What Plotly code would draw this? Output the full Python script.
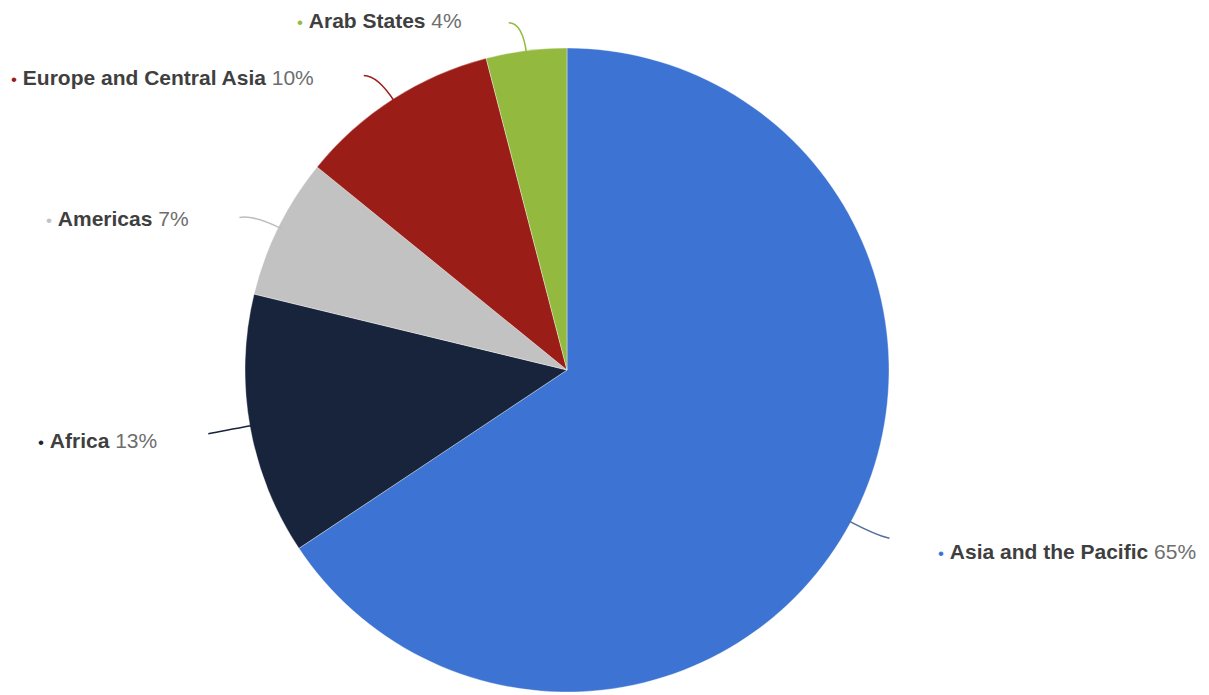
import math
import plotly.graph_objects as go

regions = ["Asia and the Pacific", "Africa", "Americas", "Europe and Central Asia", "Arab States"]
shares = [65, 13, 7, 10, 4]
colors = ["#3d74d3", "#18243c", "#c2c2c2", "#9b1d17", "#93ba3f"]
line_colors = ["#4f6f9e", "#18243c", "#bdbdbd", "#9b1d17", "#93ba3f"]

# label anchor positions (pixels)
label_pos = [(936, 551), (36, 440), (44, 218), (9, 77), (295, 20)]

W, H = 1209, 695
CX, CY, R = 567, 370, 322

fig = go.Figure()
fig.add_trace(go.Pie(
    labels=regions, values=shares, sort=False, direction="clockwise", rotation=0,
    marker=dict(colors=colors, line=dict(color="rgba(255,255,255,0.6)", width=0.6)),
    textinfo="none", hoverinfo="label+percent", showlegend=False,
    domain=dict(x=[(CX - R) / W, (CX + R) / W], y=[(H - CY - R) / H, (H - CY + R) / H]),
))
# invisible pixel axes for leader lines
fig.add_trace(go.Scatter(x=[0], y=[0], mode="markers", marker=dict(opacity=0), hoverinfo="skip", showlegend=False))

total = sum(shares)
cum = 0
shapes = []
annotations = []
for i, v in enumerate(shares):
    mid = (cum + v / 2) / total
    cum += v
    ang = math.radians(90 - mid * 360)
    ux, uy = math.cos(ang), -math.sin(ang)
    x0, y0 = CX + (R - 4) * ux, CY + (R - 4) * uy
    x1, y1 = CX + (R + 28) * ux, CY + (R + 28) * uy
    sgn = 1 if ux >= 0 else -1
    x2, y2 = x1 + sgn * 14, y1 + (3 if abs(uy) < 0.5 else 0)
    shapes.append(dict(type="path", xref="x", yref="y",
                       path=f"M {x0:.1f} {y0:.1f} Q {x1:.1f} {y1:.1f} {x2:.1f} {y2:.1f}",
                       line=dict(color=line_colors[i], width=1.5)))
    lx, ly = label_pos[i]
    txt = (f"<span style='color:{colors[i]};font-size:17px'>•</span> "
           f"<b>{regions[i]}</b> <span style='color:#6e6e6e'>{v}%</span>")
    annotations.append(dict(x=lx, y=ly, xref="x", yref="y", text=txt, showarrow=False,
                            xanchor="left", yanchor="middle",
                            font=dict(family="Liberation Sans, Arial", size=21, color="#3f3f3f")))

fig.update_layout(
    width=W, height=H, margin=dict(l=0, r=0, t=0, b=0),
    paper_bgcolor="white", plot_bgcolor="rgba(0,0,0,0)",
    xaxis=dict(range=[0, W], visible=False, domain=[0, 1], fixedrange=True),
    yaxis=dict(range=[H, 0], visible=False, domain=[0, 1], fixedrange=True),
    shapes=shapes, annotations=annotations,
)
fig.write_html("out.html", config={"displayModeBar": False},
               post_script="document.body.style.margin='0';")
